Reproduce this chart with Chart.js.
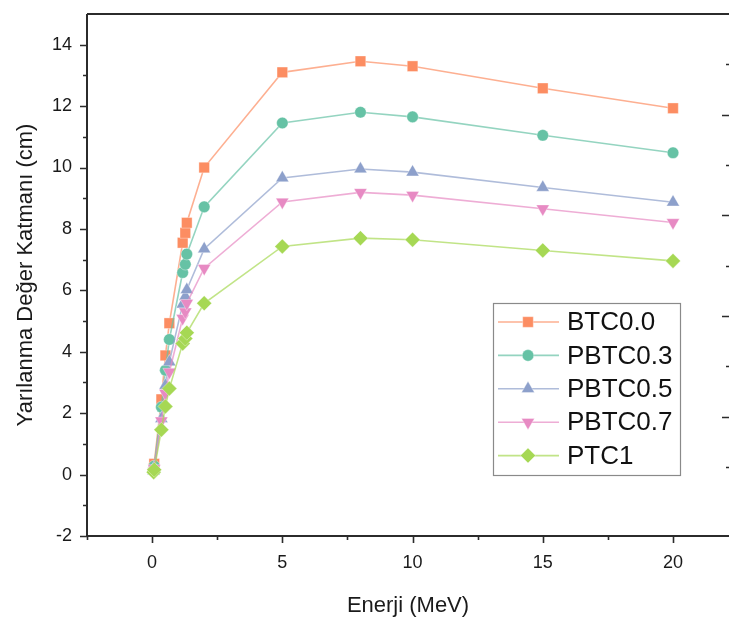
<!DOCTYPE html>
<html>
<head>
<meta charset="utf-8">
<script src="https://cdn.jsdelivr.net/npm/chart.js@4.4.1/dist/chart.umd.min.js"></script>
<style>
  html, body { margin: 0; padding: 0; background: #fff; }
  #wrap { width: 729px; height: 624px; }
</style>
</head>
<body>
<div id="wrap"><canvas id="c" width="729" height="624"></canvas></div>
<script>
// ---- data ----
const energies = [0.0595, 0.081, 0.356, 0.511, 0.662, 1.173, 1.275, 1.332, 2, 5, 8, 10, 15, 20];
const seriesNames = ["BTC0.0", "PBTC0.3", "PBTC0.5", "PBTC0.7", "PTC1"];
const btc00  = [0.20, 0.35, 2.45, 3.88, 4.93, 7.55, 7.87, 8.20, 10.00, 13.10, 13.46, 13.30, 12.58, 11.93];
const pbtc03 = [0.15, 0.28, 2.20, 3.40, 4.40, 6.58, 6.85, 7.18, 8.72, 11.45, 11.80, 11.65, 11.05, 10.48];
const pbtc05 = [0.12, 0.22, 1.82, 2.90, 3.67, 5.55, 5.80, 6.02, 7.35, 9.66, 9.95, 9.85, 9.35, 8.87];
const pbtc07 = [0.10, 0.20, 1.75, 2.65, 3.34, 5.09, 5.30, 5.58, 6.72, 8.88, 9.19, 9.10, 8.66, 8.21];
const ptc1   = [0.08, 0.16, 1.46, 2.22, 2.80, 4.27, 4.43, 4.62, 5.58, 7.43, 7.70, 7.65, 7.30, 6.96];
const xTicks = [0, 5, 10, 15, 20];
const xMinor = [-2.5, 2.5, 7.5, 12.5, 17.5];
const yTicks = [-2, 0, 2, 4, 6, 8, 10, 12, 14];
const yMinor = [-1, 1, 3, 5, 7, 9, 11, 13];
const y2Ticks = [1, 2, 3, 4];
const y2Minor = [0.5, 1.5, 2.5, 3.5, 4.5];

const allSeries = [btc00, pbtc03, pbtc05, pbtc07, ptc1];
const markerColors = ["#FC8D62", "#66C2A5", "#8DA0CB", "#E78AC3", "#A6D854"];
const lineColors = ["rgba(252,141,98,0.7)", "rgba(102,194,165,0.7)", "rgba(141,160,203,0.7)", "rgba(231,138,195,0.7)", "rgba(166,216,84,0.7)"];
const pointStyles = ["rect", "circle", "triangle", "triangle", "rectRot"];
const pointRotations = [0, 0, 0, 180, 0];
const pointRadii = [7.5, 5.8, 7.5, 7.5, 7.5];

const datasets = allSeries.map((vals, i) => ({
  label: seriesNames[i],
  data: energies.map((e, k) => ({ x: e, y: vals[k] })),
  borderColor: lineColors[i],
  backgroundColor: markerColors[i],
  pointBackgroundColor: markerColors[i],
  pointBorderColor: "rgba(255,255,255,0.35)",
  pointBorderWidth: 1,
  pointStyle: pointStyles[i],
  rotation: pointRotations[i],
  pointRadius: pointRadii[i],
  borderWidth: 1.6,
  tension: 0,
  order: allSeries.length - i,
  yAxisID: "y"
}));

const frameColor = "#2b2b2b";
const FONT = "'Liberation Sans', Arial, sans-serif";

function noPad(s) { s.paddingTop = 0; s.paddingBottom = 0; s.paddingLeft = 0; s.paddingRight = 0; }

const framePlugin = {
  id: "frame",
  afterDatasetsDraw(chart) {
    const ctx = chart.ctx;
    const a = chart.chartArea;
    const xs = chart.scales.x, ys = chart.scales.y, y2 = chart.scales.y2;
    ctx.save();
    ctx.strokeStyle = frameColor;
    ctx.lineWidth = 2;
    ctx.beginPath();
    ctx.moveTo(a.left, a.top); ctx.lineTo(a.right, a.top);
    ctx.moveTo(a.left, a.top); ctx.lineTo(a.left, a.bottom);
    ctx.moveTo(a.left - 1, a.bottom); ctx.lineTo(a.right, a.bottom);
    ctx.stroke();
    ctx.lineWidth = 1.6;
    ctx.beginPath();
    xTicks.forEach(v => { const p = Math.round(xs.getPixelForValue(v)) + 0.5; ctx.moveTo(p, a.bottom); ctx.lineTo(p, a.bottom + 7); });
    xMinor.forEach(v => { const p = Math.round(xs.getPixelForValue(v)) + 0.5; ctx.moveTo(p, a.bottom); ctx.lineTo(p, a.bottom + 4); });
    yTicks.forEach(v => { const p = Math.round(ys.getPixelForValue(v)) + 0.5; ctx.moveTo(a.left, p); ctx.lineTo(a.left - 7, p); });
    yMinor.forEach(v => { const p = Math.round(ys.getPixelForValue(v)) + 0.5; ctx.moveTo(a.left, p); ctx.lineTo(a.left - 4, p); });
    y2Ticks.forEach(v => { const p = Math.round(y2.getPixelForValue(v)) + 0.5; ctx.moveTo(a.right, p); ctx.lineTo(a.right - 7, p); });
    y2Minor.forEach(v => { const p = Math.round(y2.getPixelForValue(v)) + 0.5; ctx.moveTo(a.right, p); ctx.lineTo(a.right - 3, p); });
    ctx.stroke();
    ctx.restore();
  }
};

const legendPlugin = {
  id: "boxLegend",
  afterDraw(chart, args, opts) {
    const ctx = chart.ctx;
    const bx = opts.left, by = opts.top, bw = opts.width, bh = opts.height;
    ctx.save();
    ctx.fillStyle = "#fff";
    ctx.fillRect(bx, by, bw, bh);
    ctx.strokeStyle = "#8a8a8a";
    ctx.lineWidth = 1.2;
    ctx.strokeRect(bx + 0.5, by + 0.5, bw, bh);
    ctx.font = "26px " + FONT;
    ctx.textBaseline = "middle";
    ctx.textAlign = "left";
    chart.data.datasets.forEach((ds, i) => {
      const y = by + opts.firstRow + i * opts.rowGap;
      ctx.strokeStyle = ds.borderColor;
      ctx.lineWidth = 1.6;
      ctx.beginPath();
      ctx.moveTo(bx + 5, y); ctx.lineTo(bx + 66, y);
      ctx.stroke();
      ctx.fillStyle = ds.pointBackgroundColor;
      ctx.strokeStyle = ds.pointBorderColor;
      ctx.lineWidth = 1;
      Chart.helpers.drawPoint(ctx, {
        pointStyle: ds.pointStyle, rotation: ds.rotation, radius: ds.pointRadius, borderWidth: 1
      }, bx + 35, y);
      ctx.fillStyle = "#111";
      ctx.fillText(ds.label, bx + 74, y + 1);
    });
    ctx.restore();
  }
};

new Chart(document.getElementById("c"), {
  type: "line",
  data: { datasets },
  plugins: [framePlugin, legendPlugin],
  options: {
    responsive: false,
    animation: false,
    devicePixelRatio: 1,
    layout: { autoPadding: false, padding: { top: 14, right: 0, left: 0, bottom: 0 } },
    plugins: {
      legend: { display: false },
      tooltip: { enabled: false },
      boxLegend: { left: 493, top: 303, width: 187, height: 172, firstRow: 19, rowGap: 33.4 }
    },
    scales: {
      x: {
        type: "linear",
        min: -2.5,
        max: 22.15,
        grid: { display: false, drawTicks: false },
        border: { display: false },
        afterBuildTicks: s => { s.ticks = xTicks.map(v => ({ value: v })); },
        afterFit: s => { s.height = 88; noPad(s); },
        ticks: { color: "#1a1a1a", padding: 16, font: { family: FONT, size: 18 }, maxRotation: 0 },
        title: { display: true, text: "Enerji (MeV)", color: "#1a1a1a", padding: { top: 0, bottom: 5 }, font: { family: FONT, size: 22 } }
      },
      y: {
        type: "linear",
        position: "left",
        min: -2,
        max: 15,
        grid: { display: false, drawTicks: false },
        border: { display: false },
        afterBuildTicks: s => { s.ticks = yTicks.map(v => ({ value: v })); },
        afterFit: s => { s.width = 87; noPad(s); },
        ticks: { color: "#1a1a1a", padding: 15, font: { family: FONT, size: 18 } },
        title: { display: true, text: "Yarılanma Değer Katmanı (cm)", color: "#1a1a1a", padding: { top: 13, bottom: 0 }, font: { family: FONT, size: 22 } }
      },
      y2: {
        type: "linear",
        position: "right",
        min: -0.183,
        max: 5,
        grid: { display: false, drawTicks: false },
        border: { display: false },
        afterBuildTicks: s => { s.ticks = y2Ticks.map(v => ({ value: v })); },
        afterFit: s => { s.width = 0; noPad(s); },
        ticks: { display: false }
      }
    }
  }
});
</script>
</body>
</html>
